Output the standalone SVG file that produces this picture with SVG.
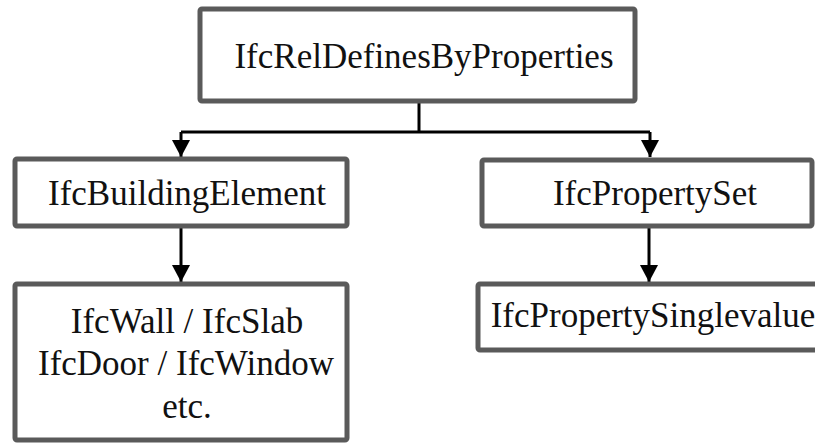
<svg xmlns="http://www.w3.org/2000/svg" width="815" height="444" viewBox="0 0 815 444">
  <defs>
    <marker id="arrow" markerUnits="userSpaceOnUse" markerWidth="18" markerHeight="18" viewBox="0 0 18 18" refX="17" refY="9" orient="auto">
      <path d="M0,0 L17,9 L0,18 Z" fill="#000"/>
    </marker>
    <style>
      .box { fill: #fff; stroke: #5a5a5a; stroke-width: 5; }
      .lbl { font-family: "Liberation Serif", "Times New Roman", serif; font-size: 35px; fill: #111; text-anchor: middle; }
      .conn { fill: none; stroke: #000; stroke-width: 3; }
    </style>
  </defs>
  <rect width="815" height="444" fill="#fff"/>

  <g id="connectors">
    <path class="conn" d="M419,103 V132"/>
    <path class="conn" d="M181,132 H650"/>
    <path class="conn" d="M181,132 V157" marker-end="url(#arrow)"/>
    <path class="conn" d="M650,132 V157" marker-end="url(#arrow)"/>
    <path class="conn" d="M181,228 V282" marker-end="url(#arrow)"/>
    <path class="conn" d="M649,228 V282" marker-end="url(#arrow)"/>
  </g>

  <g id="rel-defines">
    <rect class="box" x="200" y="9" width="435" height="92" rx="2"/>
    <text class="lbl" x="424" y="68">IfcRelDefinesByProperties</text>
  </g>

  <g id="building-element">
    <rect class="box" x="15" y="159" width="332" height="67" rx="2"/>
    <text class="lbl" x="187" y="205">IfcBuildingElement</text>
  </g>

  <g id="element-types">
    <rect class="box" x="15" y="284" width="332" height="156" rx="2"/>
    <text class="lbl" x="187" y="333">IfcWall / IfcSlab</text>
    <text class="lbl" x="186" y="375">IfcDoor / IfcWindow</text>
    <text class="lbl" x="187" y="418">etc.</text>
  </g>

  <g id="property-set">
    <rect class="box" x="482" y="160" width="330" height="66" rx="2"/>
    <text class="lbl" x="655" y="205">IfcPropertySet</text>
  </g>

  <g id="property-single-value">
    <rect class="box" x="478" y="284" width="345" height="66" rx="2"/>
    <text class="lbl" x="653" y="327">IfcPropertySinglevalue</text>
  </g>
</svg>
